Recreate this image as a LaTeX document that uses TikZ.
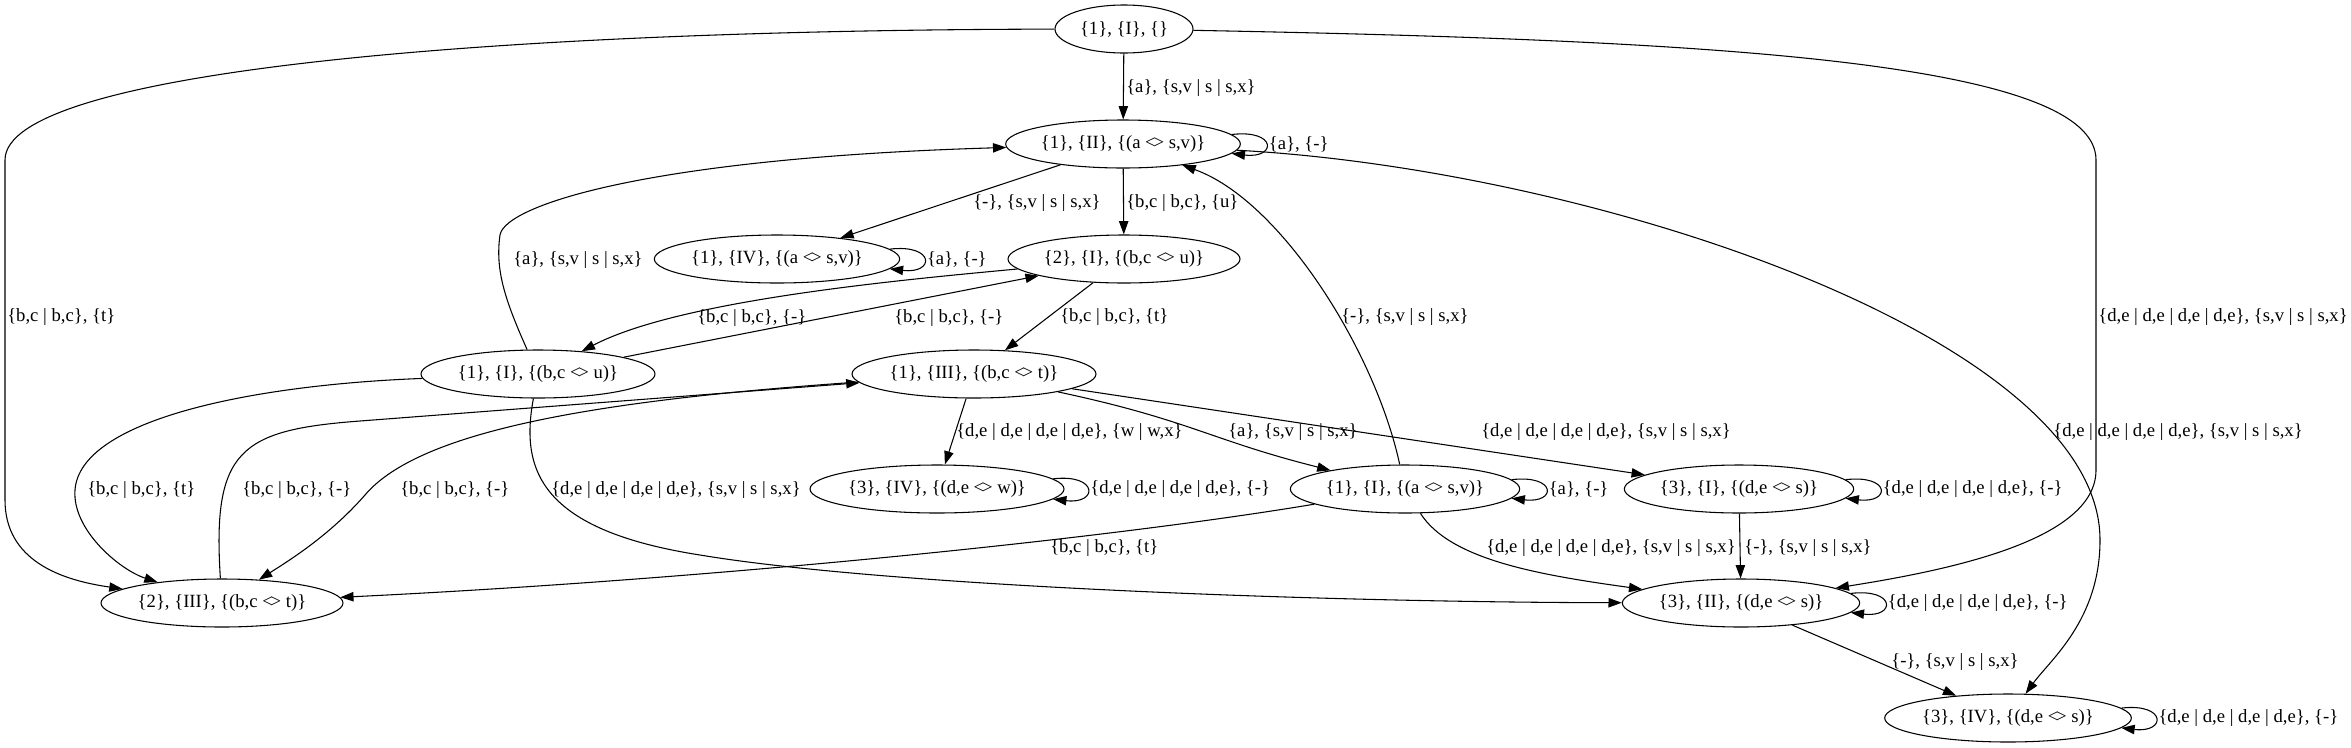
\documentclass[tikz,border=0pt]{standalone}
\usepackage{fontspec}
\setmainfont{Liberation Serif}
\usepackage{tikz}
\usetikzlibrary{arrows.meta}
\usetikzlibrary{shapes}

\newcommand{\svx}{\{s,v | s | s,x\}}
\newcommand{\bcx}{\{b,c | b,c\}}
\newcommand{\dex}{\{d,e | d,e | d,e | d,e\}}
\newcommand{\lz}{<\kern-1.6pt>}

\begin{document}
\begin{tikzpicture}[x=0.75pt,y=-0.75pt]
\tikzset{font=\fontsize{14pt}{16pt}\selectfont}
\tikzset{state/.style={draw, ellipse, line width=0.8pt, inner sep=0pt, minimum height=36pt, minimum width=#1}}
\tikzset{trans/.style={draw, line width=0.8pt, -{Triangle[length=10pt,width=7pt]}}}
\tikzset{lbl/.style={anchor=west, inner sep=0pt}}
\tikzset{looplbl/.style={anchor=west, inner xsep=2pt, inner ysep=0pt}}
\tikzset{selfloop/.style={to path={.. controls +(34pt,4pt) and +(34pt,-4pt) .. (\tikztotarget) \tikztonodes}}}
\useasboundingbox (0,0) rectangle (2351,747);

% states
\node[state=103.5pt] (q0) at (1124,29) {\{1\}, \{I\}, \{\}};
\node[state=176pt] (q1) at (1123,144) {\{1\}, \{II\}, \{(a \lz{} s,v)\}};
\node[state=184pt] (q2) at (777,259) {\{1\}, \{IV\}, \{(a \lz{} s,v)\}};
\node[state=174pt] (q3) at (1124,259) {\{2\}, \{I\}, \{(b,c \lz{} u)\}};
\node[state=175.5pt] (q4) at (538,374) {\{1\}, \{I\}, \{(b,c \lz{} u)\}};
\node[state=183pt] (q5) at (974,374) {\{1\}, \{III\}, \{(b,c \lz{} t)\}};
\node[state=190.5pt] (q6) at (937,489) {\{3\}, \{IV\}, \{(d,e \lz{} w)\}};
\node[state=172pt] (q7) at (1405,489) {\{1\}, \{I\}, \{(a \lz{} s,v)\}};
\node[state=172pt] (q8) at (1739,489) {\{3\}, \{I\}, \{(d,e \lz{} s)\}};
\node[state=181.5pt] (q9) at (222,603) {\{2\}, \{III\}, \{(b,c \lz{} t)\}};
\node[state=178pt] (q10) at (1741,603) {\{3\}, \{II\}, \{(d,e \lz{} s)\}};
\node[state=185pt] (q11) at (2008,718) {\{3\}, \{IV\}, \{(d,e \lz{} s)\}};

% transitions
\draw[trans] (q0) -- (q1);
\draw[trans] (q0) .. controls (500,30) and (5,70) .. (5,160) -- (5,500) .. controls (5,560) and (60,580) .. (q9);
\draw[trans] (q0) .. controls (1700,40) and (2096,60) .. (2096,160) -- (2096,470) .. controls (2096,540) and (1950,570) .. (q10);
\draw[trans] (q1.5) to[selfloop] node[looplbl] (l1) {\{a\}, \{-\}} (q1.-5);
\draw[trans] (q1) -- (q2);
\draw[trans] (q1) -- (q3);
\draw[trans] (q1) .. controls (1600,170) and (2100,340) .. (2100,540) .. controls (2100,620) and (2050,660) .. (q11);
\draw[trans] (q2.5) to[selfloop] node[looplbl] (l2) {\{a\}, \{-\}} (q2.-5);
\draw[trans] (q4) .. controls (505,300) and (495,270) .. (500,235) .. controls (505,205) and (650,158) .. (q1);
\draw[trans] (q4) -- (q3);
\draw[trans] (q3) .. controls (900,280) and (680,300) .. (q4);
\draw[trans] (q3) -- (q5);
\draw[trans] (q4) .. controls (250,385) and (80,420) .. (75,490) .. controls (72,530) and (120,570) .. (q9);
\draw[trans] (q4) .. controls (520,470) and (540,530) .. (700,555) .. controls (880,585) and (1300,602) .. (q10);
\draw[trans] (q9) .. controls (212,450) and (240,430) .. (360,421) -- (q5);
\draw[trans] (q5) .. controls (600,400) and (420,430) .. (365,495) .. controls (330,535) and (290,560) .. (q9);
\draw[trans] (q5) -- (q6);
\draw[trans] (q5) .. controls (1190,420) and (1210,440) .. (q7);
\draw[trans] (q5) -- (q8);
\draw[trans] (q6.5) to[selfloop] node[looplbl] (l6) {\dex, \{-\}} (q6.-5);
\draw[trans] (q7) .. controls (1375,350) and (1280,200) .. (q1);
\draw[trans] (q7.5) to[selfloop] node[looplbl] (l7) {\{a\}, \{-\}} (q7.-5);
\draw[trans] (q7) .. controls (1100,540) and (700,580) .. (q9);
\draw[trans] (q7) .. controls (1450,560) and (1540,575) .. (q10);
\draw[trans] (q8.5) to[selfloop] node[looplbl] (l8) {\dex, \{-\}} (q8.-5);
\draw[trans] (q8) -- (q10);
\draw[trans] (q10.5) to[selfloop] node[looplbl] (l10) {\dex, \{-\}} (q10.-5);
\draw[trans] (q10) -- (q11);
\draw[trans] (q11.5) to[selfloop] node[looplbl] (l11) {\dex, \{-\}} (q11.-5);

% labels
\node[lbl] (t01) at (1126,88) {\{a\}, \svx};
\node[lbl] (t09) at (7,317) {\bcx, \{t\}};
\node[lbl] (t010) at (2098,317) {\dex, \svx};
\node[lbl] (t12) at (973,203) {\{-\}, \svx};
\node[lbl] (t13) at (1126,203) {\bcx, \{u\}};
\node[lbl] (t111) at (2053,432) {\dex, \svx};
\node[lbl] (t41) at (513,260) {\{a\}, \svx};
\node[lbl] (t34) at (697,318) {\bcx, \{-\}};
\node[lbl] (t43) at (894,318) {\bcx, \{-\}};
\node[lbl] (t35) at (1060,317) {\bcx, \{t\}};
\node[lbl] (t49) at (87,490) {\bcx, \{t\}};
\node[lbl] (t95) at (242,490) {\bcx, \{-\}};
\node[lbl] (t59) at (400,490) {\bcx, \{-\}};
\node[lbl] (t410) at (551,490) {\dex, \svx};
\node[lbl] (t56) at (956,432) {\dex, \{w | w,x\}};
\node[lbl] (t57) at (1228,432) {\{a\}, \svx};
\node[lbl] (t58) at (1481,432) {\dex, \svx};
\node[lbl] (t71) at (1341,317) {\{-\}, \svx};
\node[lbl] (t79) at (1050,548) {\bcx, \{t\}};
\node[lbl] (t710) at (1486,548) {\dex, \svx};
\node[lbl] (t810) at (1744,548) {\{-\}, \svx};
\node[lbl] (t1011) at (1891,662) {\{-\}, \svx};
\end{tikzpicture}
\end{document}
